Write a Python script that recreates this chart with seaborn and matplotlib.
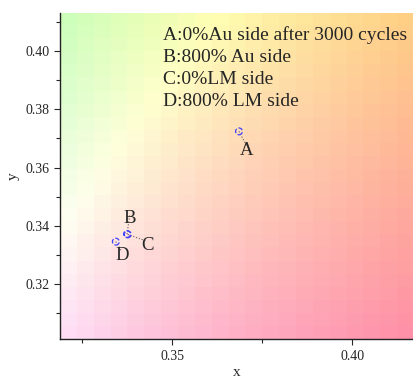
import numpy as np
import matplotlib
matplotlib.use("Agg")
import matplotlib.pyplot as plt
import seaborn as sns
import pandas as pd

# chromaticity points
labels = ["A", "B", "C", "D"]
cx = [0.3686, 0.3375, 0.3377, 0.3344]
cy = [0.3724, 0.3372, 0.3371, 0.3346]
label_x = [0.3708, 0.3383, 0.3431, 0.3361]
label_y = [0.3659, 0.3427, 0.3333, 0.3297]
legend_lines = [
    "A:0%Au side after 3000 cycles",
    "B:800% Au side",
    "C:0%LM side",
    "D:800% LM side",
]
xlim = (0.3189, 0.4172)
ylim = (0.3012, 0.4130)


def xy_to_rgb(x, y):
    # CIE xy (Y=1) -> sRGB, normalised to max channel
    X = x / y
    Z = (1 - x - y) / y
    M = np.array([[3.2406, -1.5372, -0.4986],
                  [-0.9689, 1.8758, 0.0415],
                  [0.0557, -0.2040, 1.0570]])
    rgb = np.einsum("ij,...j->...i", M, np.stack([X, np.ones_like(X), Z], -1))
    rgb = np.clip(rgb, 0, None)
    rgb = rgb / rgb.max(axis=-1, keepdims=True)
    rgb = np.where(rgb <= 0.0031308, 12.92 * rgb, 1.055 * rgb ** (1 / 2.4) - 0.055)
    rgb = 0.92 * rgb + 0.08
    return np.clip(rgb, 0, 1)


sns.set_style("ticks")
plt.rcParams["font.family"] = ["Liberation Serif", "DejaVu Serif"]

fig = plt.figure(figsize=(4.14, 3.81), dpi=100)
ax = fig.add_axes([0.145, 0.110, 0.855, 0.856])

ncol, nrow = 21, 25
gx = np.linspace(xlim[0], xlim[1], ncol + 1)
gy = np.linspace(ylim[0], ylim[1], nrow + 1)
mx, my = np.meshgrid((gx[:-1] + gx[1:]) / 2, (gy[:-1] + gy[1:]) / 2)
img = xy_to_rgb(mx, my)
ax.imshow(img, origin="lower", extent=[*xlim, *ylim], aspect="auto",
          interpolation="nearest", zorder=0)

df = pd.DataFrame({"x": cx, "y": cy, "label": labels})
for i in range(len(labels)):
    ax.plot([cx[i], label_x[i]], [cy[i], label_y[i] + 0.0014], ls=":",
            color="#606060", lw=0.8, zorder=2)
sns.scatterplot(data=df, x="x", y="y", ax=ax, marker="o", s=24,
                facecolor="none", edgecolor="#4040ff", linewidth=0.9,
                linestyle="--", zorder=3)
for i, lab in enumerate(labels):
    ax.text(label_x[i], label_y[i], lab, ha="center", va="center", fontsize=13.5)

ax.text(0.3475, 0.4085, "\n".join(legend_lines), fontsize=14, va="top",
        ha="left", linespacing=1.38)

ax.set_xlim(*xlim)
ax.set_ylim(*ylim)
ax.set_xticks([0.35, 0.40])
ax.set_xticks([0.325, 0.375], minor=True)
ax.set_yticks([0.32, 0.34, 0.36, 0.38, 0.40])
ax.set_yticks([0.31, 0.33, 0.35, 0.37, 0.39, 0.41], minor=True)
ax.xaxis.set_major_formatter(matplotlib.ticker.FormatStrFormatter("%.2f"))
ax.yaxis.set_major_formatter(matplotlib.ticker.FormatStrFormatter("%.2f"))
ax.tick_params(which="both", direction="out", labelsize=10, width=0.8)
ax.tick_params(which="major", length=4)
ax.tick_params(which="minor", length=3)
ax.set_xlabel("x", fontsize=11, labelpad=2.5)
ax.set_ylabel("y", fontsize=11, labelpad=4)
sns.despine(ax=ax, top=True, right=True)
for s in ["left", "bottom"]:
    ax.spines[s].set_linewidth(1.0)
    ax.spines[s].set_color("#222222")

fig.savefig("out.png", dpi=100)
